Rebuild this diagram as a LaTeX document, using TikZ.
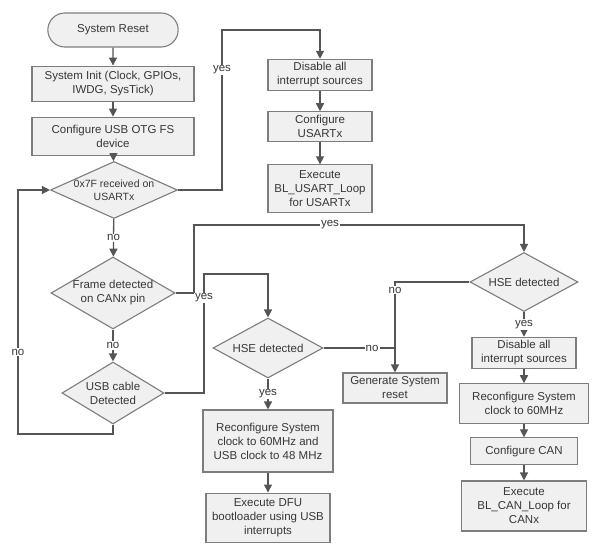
\documentclass[tikz,border=0pt]{standalone}
\usepackage{fontspec}
\setmainfont{Liberation Sans}
\usepackage{xcolor}
\usepackage{tikz}
\usetikzlibrary{shapes, arrows.meta, positioning}

\definecolor{boxfill}{RGB}{240,240,240}
\definecolor{boxline}{RGB}{125,125,125}
\definecolor{flowline}{RGB}{85,85,85}
\definecolor{txt}{RGB}{55,55,55}

\begin{document}
\begin{tikzpicture}[x=1pt, y=-1pt,
  font=\fontsize{11.5}{14}\selectfont, text=txt,
  box/.style={draw=boxline, fill=boxfill, line width=1.1pt, rectangle, align=center},
  term/.style={draw=boxline, fill=boxfill, line width=1.1pt, rounded rectangle, minimum width=137pt, minimum height=34pt},
  decision/.style={draw=boxline, fill=boxfill, line width=1.1pt, diamond, align=center, inner sep=-1pt},
  line/.style={draw=flowline, line width=1.3pt},
  arr/.style={line, -{Triangle[length=8pt,width=8pt]}},
  lbl/.style={fill=white, inner sep=1pt, text=txt}]
\useasboundingbox (0,0) rectangle (616,551);

% main column
\node[term] (reset) at (113,30) {System Reset};
\node[box, minimum width=162pt, minimum height=35pt, below=18pt of reset] (init) {System Init (Clock, GPIOs,\\IWDG, SysTick)};
\node[box, minimum width=162pt, minimum height=38pt, below=15pt of init] (usbcfg) {Configure USB OTG FS\\device};
\node[decision, aspect=2.23, minimum width=127pt, minimum height=57pt, font=\fontsize{10.5}{13}\selectfont] (rx) at (114,190) {0x7F received on\\USARTx};
\node[decision, aspect=1.72, minimum width=124pt, minimum height=72pt] (canf) at (113,293) {Frame detected\\on CANx pin};
\node[decision, aspect=1.65, minimum width=102pt, minimum height=62pt] (usbdet) at (113,393) {USB cable\\Detected};

% USART branch
\node[box, minimum width=104pt, minimum height=29pt] (dis1) at (320,75) {Disable all\\interrupt sources};
\node[box, minimum width=104pt, minimum height=30pt, below=20pt of dis1] (cfgusart) {Configure\\USARTx};
\node[box, minimum width=104pt, minimum height=48pt, below=22pt of cfgusart] (exeusart) {Execute\\BL\_USART\_Loop\\for USARTx};

% USB branch
\node[decision, aspect=1.83, minimum width=110pt, minimum height=60pt] (hse1) at (268,348) {HSE detected};
\node[box, minimum width=130pt, minimum height=62pt] (reconf1) at (268,441) {Reconfigure System\\clock to 60MHz and\\USB clock to 48 MHz};
\node[box, minimum width=124pt, minimum height=49pt, below=20pt of reconf1] (dfu) {Execute DFU\\bootloader using USB\\interrupts};
\node[box, minimum width=104pt, minimum height=30pt] (gen) at (395,388) {Generate System\\reset};

% CAN branch
\node[decision, aspect=1.83, minimum width=108pt, minimum height=59pt] (hse2) at (524,282) {HSE detected};
\node[box, minimum width=104pt, minimum height=29pt] (dis2) at (524,353) {Disable all\\interrupt sources};
\node[box, minimum width=129pt, minimum height=40pt, below=14pt of dis2] (reconf2) {Reconfigure System\\clock to 60MHz};
\node[box, minimum width=107pt, minimum height=27pt, below=13pt of reconf2] (cfgcan) {Configure CAN};
\node[box, minimum width=125pt, minimum height=50pt, below=15pt of cfgcan] (execan) {Execute\\BL\_CAN\_Loop for\\CANx};

\coordinate (yesturn) at (222,30);
\coordinate (canturn) at (194,225);
\coordinate (usbturn) at (204,274);
\coordinate (nojoin) at (395,348);
\coordinate (loopturn) at (18,434);

\draw[arr] (reset) -- (init);
\draw[arr] (init) -- (usbcfg);
\draw[arr] (usbcfg) -- (rx);
\draw[arr] (rx.east) -| (yesturn) -| (dis1.north);
\path (rx.east) -| node[lbl, pos=0.875] {yes} (yesturn);
\draw[arr] (dis1) -- (cfgusart);
\draw[arr] (cfgusart) -- (exeusart);
\draw[arr] (rx) -- node[lbl] {no} (canf);
\draw[arr] (canf) -- node[lbl] {no} (usbdet);
\draw[arr] (canf.east) -| (canturn) -| node[lbl, pos=0.206] {yes} (hse2.north);
\draw[arr] (usbdet.east) -| (usbturn) -| (hse1.north);
\path (usbdet.east) -| node[lbl, pos=0.9] {yes} (usbturn);
\draw[arr] (usbdet.south) |- (loopturn) |- node[lbl, pos=0.168] {no} (rx.west);
\draw[line] (hse1.east) -- node[lbl, pos=0.68] {no} (nojoin);
\draw[arr] (hse2.west) -| node[lbl, pos=0.545] {no} (gen.north);
\draw[arr] (hse1) -- node[lbl] {yes} (reconf1);
\draw[arr] (reconf1) -- (dfu);
\draw[arr] (hse2) -- node[lbl] {yes} (dis2);
\draw[arr] (dis2) -- (reconf2);
\draw[arr] (reconf2) -- (cfgcan);
\draw[arr] (cfgcan) -- (execan);
\end{tikzpicture}
\end{document}
